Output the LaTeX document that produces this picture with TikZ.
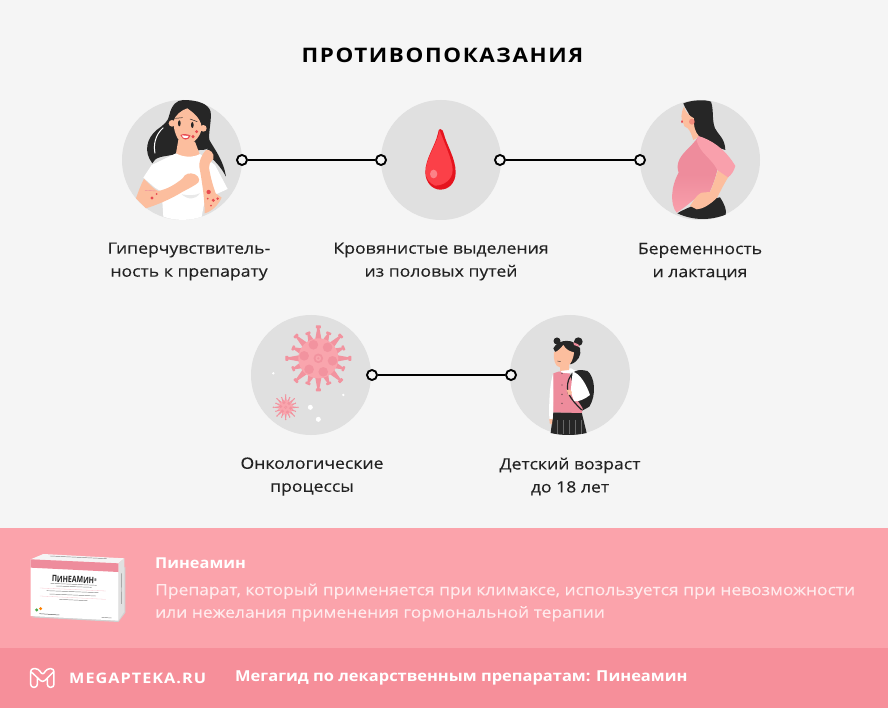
\documentclass[tikz,border=0pt]{standalone}
\usepackage{fontspec}
\setmainfont{Open Sans}[FakeStretch=1.13,FakeBold=0.25,BoldFeatures={FakeBold=0}]
\newfontfamily\boldf{Open Sans}[FakeStretch=1.09]
\newfontfamily\titlefont{Open Sans}[FakeStretch=1.12,LetterSpace=8]
\newfontfamily\brandfont{Open Sans}[FakeStretch=1.12,LetterSpace=7]
\definecolor{bgc}{HTML}{F5F5F5}
\definecolor{discc}{HTML}{E0E0E0}
\definecolor{bandc}{HTML}{FBA3AB}
\definecolor{footc}{HTML}{F68F9A}
\definecolor{inkc}{HTML}{222222}
\definecolor{skinc}{HTML}{FCBE9E}
\definecolor{hairc}{HTML}{262626}
\definecolor{rosec}{HTML}{EE8C9C}
\definecolor{lightrose}{HTML}{F9A0AC}
\definecolor{spikec}{HTML}{F2939F}
\definecolor{bodyc}{HTML}{F9A5AD}
\definecolor{spotc}{HTML}{E84A50}
\definecolor{dropc}{HTML}{FB4048}
\definecolor{dropd}{HTML}{E5141E}
\definecolor{bodytext}{HTML}{FFEAEC}
\tikzset{
  disc/.style={circle,fill=discc,draw=none,minimum size=120pt,inner sep=0pt},
  port/.style={circle,draw=black,fill=bgc,line width=1.9pt,minimum size=10pt,inner sep=0pt},
  link/.style={draw=black,line width=1.8pt},
  lab/.style={align=center,text=inkc,font=\fontsize{15.6}{23}\selectfont,inner sep=0pt},
  bandtext/.style={anchor=west,align=left,inner sep=0pt},
  zoomed/.style={shift={(#1)},x=0.3333pt,y=-0.3333pt},
  greek/.style={black!45,line width=.45pt},
}
% angle, spike length, body radius, spike half width
\newcommand{\spike}[4]{%
  \begin{scope}[rotate=#1]
  \fill[spikec] (#3*.8,#4) -- (#2*.92,#4*.32) -- (#2,#4*.32) -- (#2,-#4*.32) -- (#2*.92,-#4*.32) -- (#3*.8,-#4) -- cycle;
  \fill[spikec,rounded corners=.6pt] (#2*.93,-#4*.7) rectangle (#2*1.02,#4*.7);
  \end{scope}}
\newcommand{\virus}[5]{%
  \begin{scope}[shift={(#1,#2)}]
  \foreach \a in {0,45,...,315}{\spike{\a+0}{#4}{#3}{#5}}
  \foreach \a in {22.5,67.5,...,337.5}{\spike{\a}{#4*.86}{#3}{#5}}
  \fill[bodyc] (0,0) circle (#3);
  \foreach \a in {0,60,...,300}{\fill[spikec] (\a+10:#3*.72) circle (#3*.24);}
  \fill[spikec] (0,0) circle (#3*.24);
  \fill[bodyc] (0,0) circle (#3*.14);
  \fill[spikec] (0,0) circle (#3*.06);
  \end{scope}}
\begin{document}
\begin{tikzpicture}[x=1pt,y=-1pt]
\useasboundingbox (0,0) rectangle (888,708);
\fill[bgc] (0,0) rectangle (888,528);
\fill[bandc] (0,528) rectangle (888,648);
\fill[footc] (0,648) rectangle (888,708);

\node[text=black,inner sep=0pt,font=\titlefont\bfseries\fontsize{20}{24}\selectfont] (title) at (442.5,55) {ПРОТИВОПОКАЗАНИЯ};

\node[disc] (d1) at (182,160) {};
\node[disc] (d2) at (441,160) {};
\node[disc] (d3) at (700,160) {};
\node[disc] (d4) at (311,375) {};
\node[disc] (d5) at (570,375) {};

% woman with rash
\begin{scope}[zoomed={100,85}]
\fill[hairc] (250,45) .. controls (290,45) and (325,55) .. (332,80) .. controls (335,110) and (325,140) .. (328,165)
 .. controls (335,180) and (335,195) .. (300,195)
 -- (215,210) .. controls (190,215) and (165,215) .. (157,235) .. controls (130,200) and (140,160) .. (170,135)
 .. controls (190,120) and (205,110) .. (208,90) .. controls (215,60) and (230,45) .. (250,45) -- cycle;
\draw[white,line width=1pt] (190,128) .. controls (165,150) and (160,180) .. (165,205);
\fill[skinc] (235,165) -- (285,170) -- (300,210) .. controls (280,225) and (250,225) .. (228,205) -- cycle;
\fill[white] (228,205) .. controls (250,218) and (280,218) .. (300,207) -- (345,240) -- (383,312) -- (348,328) -- (325,290) -- (305,395)
 .. controls (270,408) and (225,408) .. (190,395) -- (185,320) -- (165,308) -- (130,278) -- (155,240) -- cycle;
\fill[discc!70!white] (245,328) .. controls (265,345) and (285,345) .. (300,325) .. controls (285,332) and (265,332) .. (245,328) -- cycle;
\fill[hairc] (328,165) .. controls (345,195) and (370,225) .. (378,275) .. controls (360,240) and (340,225) .. (320,205) -- cycle;
\fill[skinc] (298,245) .. controls (297,230) and (303,212) .. (318,195) .. controls (330,192) and (345,205) .. (340,222)
 .. controls (330,232) and (326,240) .. (327,248) .. controls (332,280) and (340,305) .. (347,325) -- (365,338)
 .. controls (355,360) and (335,380) .. (314,385) .. controls (314,340) and (306,290) .. (298,245) -- cycle;
\fill[skinc] (132,282) .. controls (150,300) and (165,315) .. (175,318) .. controls (205,312) and (230,295) .. (248,280)
 .. controls (255,265) and (270,262) .. (285,268) .. controls (300,275) and (302,292) .. (288,298) .. controls (270,310) and (250,318) .. (235,328)
 .. controls (205,345) and (170,360) .. (138,370) -- (108,340) .. controls (115,320) and (122,300) .. (132,282) -- cycle;
\fill[skinc] (216,115) circle (10);
\fill[skinc] (310,130) circle (10);
\fill[skinc] (220,110) .. controls (225,90) and (245,75) .. (262,70) .. controls (275,80) and (300,95) .. (305,125)
 .. controls (305,150) and (285,175) .. (260,180) .. controls (238,178) and (222,150) .. (220,110) -- cycle;
\fill[hairc] (238,115) ellipse (4 and 9);
\fill[hairc] (277,120) ellipse (4 and 9);
\draw[hairc,line width=.5pt] (226,100) -- (248,98);
\draw[hairc,line width=.5pt] (270,102) -- (292,110);
\fill[spotc] (241,150) .. controls (252,145) and (265,148) .. (272,152) .. controls (265,168) and (248,168) .. (241,150) -- cycle;
\fill[white] (246,151) -- (266,153) -- (262,159) -- (249,158) -- cycle;
\fill[spotc] (290,140) circle (5);
\fill[spotc] (279,155) circle (5);
\fill[spotc] (326,321) circle (6.5);
\fill[spotc] (340,346) circle (5);
\fill[spotc] (353,341) circle (4);
\fill[spotc] (323,341) circle (3);
\fill[spotc] (333,362) circle (3);
\fill[spotc] (156,339) circle (5);
\fill[spotc] (170,327) circle (3);
\draw[rosec,line width=.4pt] (135,316) -- (168,318);
\end{scope}

% drop
\begin{scope}[zoomed={370,95}]
\fill[dropd] (211,102) .. controls (218,102) and (220,110) .. (222,118) .. controls (230,150) and (257,190) .. (257,232)
 .. controls (257,265) and (235,284) .. (211,284) .. controls (187,284) and (166,262) .. (166,232)
 .. controls (166,190) and (195,155) .. (204,115) .. controls (205,106) and (207,102) .. (211,102) -- cycle;
\fill[dropc] (209,106) .. controls (215,125) and (248,195) .. (248,225) .. controls (248,255) and (220,272) .. (195,272)
 .. controls (180,265) and (166,250) .. (167,232) .. controls (167,190) and (198,155) .. (209,106) -- cycle;
\fill[white,opacity=.35] (191,237) ellipse (11 and 13);
\end{scope}

% pregnant woman
\begin{scope}[zoomed={630,90}]
\fill[hairc] (160,40) .. controls (185,30) and (225,28) .. (243,35) .. controls (252,60) and (245,90) .. (255,115)
 .. controls (265,135) and (285,145) .. (286,180) -- (240,165) -- (205,140) -- (185,120) -- (180,80) .. controls (175,65) and (165,55) .. (160,40) -- cycle;
\fill[skinc] (162,50) .. controls (165,65) and (178,78) .. (192,85) .. controls (190,110) and (195,125) .. (208,140)
 -- (190,150) .. controls (185,135) and (180,120) .. (172,114) .. controls (165,112) and (160,108) .. (160,100)
 .. controls (152,90) and (152,70) .. (162,50) -- cycle;
\fill[spotc!70!skinc,opacity=.6] (186,95) circle (9);
\fill[spotc] (156,95) ellipse (3 and 5);
\fill[hairc] (142,370) .. controls (165,355) and (230,330) .. (270,322) .. controls (285,345) and (290,360) .. (287,374)
 .. controls (240,392) and (190,392) .. (142,370) -- cycle;
\shade[top color=rosec,bottom color=lightrose,middle color=rosec] (205,140) .. controls (240,160) and (262,190) .. (285,215) -- (262,240) .. controls (255,270) and (245,295) .. (237,310)
 -- (212,312) .. controls (195,325) and (175,345) .. (140,368) .. controls (120,345) and (122,290) .. (146,248)
 .. controls (138,225) and (145,205) .. (170,180) .. controls (185,165) and (195,155) .. (205,140) -- cycle;
\fill[skinc] (264,240) -- (298,256) .. controls (280,285) and (268,310) .. (262,322) .. controls (240,345) and (215,358) .. (200,358)
 -- (180,348) .. controls (190,335) and (195,318) .. (215,308) -- (240,306) .. controls (250,285) and (257,260) .. (264,240) -- cycle;
\fill[lightrose] (205,138) .. controls (240,148) and (285,175) .. (316,228) .. controls (312,242) and (305,254) .. (294,262)
 -- (262,240) .. controls (245,205) and (210,190) .. (200,152) -- cycle;
\end{scope}

% virus
\begin{scope}[zoomed={240,305}]
\virus{235}{160}{60}{97}{11}
\virus{137}{307}{21}{38}{3.4}
\fill[white] (100,205) circle (4);
\fill[white] (310,270) circle (4);
\fill[white] (211,307) circle (7.5);
\fill[white] (235,343) circle (7.5);
\end{scope}

% girl
\begin{scope}[zoomed={500,305}]
\fill[black!85] (152,384) -- (160,322) -- (245,322) -- (260,384) .. controls (225,392) and (185,392) .. (152,384) -- cycle;
\foreach \q in {172,190,208,226,243}{\draw[black!60,line width=.35pt] (\q,345) -- (\q,386);}
\fill[skinc] (148,340) -- (158,340) -- (156,358) -- (149,355) -- cycle;
\fill[white] (160,205) .. controls (150,230) and (146,290) .. (148,342) -- (158,342) -- (162,280) -- cycle;
\fill[hairc] (200,235) .. controls (205,200) and (235,190) .. (262,198) .. controls (285,215) and (290,270) .. (268,305)
 -- (245,318) -- (230,290) -- cycle;
\fill[rosec] (175,200) -- (205,197) .. controls (215,220) and (220,245) .. (222,270) -- (248,310) -- (246,324) -- (160,322)
 -- (160,205) -- cycle;
\fill[white] (180,195) -- (213,190) -- (228,198) -- (205,205) -- (185,203) -- cycle;
\draw[hairc,line width=1.2pt] (248,197) .. controls (215,195) and (195,225) .. (205,265) .. controls (215,285) and (230,300) .. (245,315);
\fill[white] (218,200) .. controls (240,205) and (260,240) .. (270,270) .. controls (255,282) and (235,292) .. (222,288) -- (212,260) -- cycle;
\fill[skinc] (200,255) .. controls (210,250) and (218,258) .. (215,268) -- (205,270) -- cycle;
\foreach \q in {205,240,268,295}{\fill[hairc!70!rosec] (186,\q) circle (2.2);}
\fill[hairc] (235,110) circle (13);
\fill[hairc] (171,108) circle (10.5);
\fill[hairc] (160,130) .. controls (175,100) and (225,100) .. (240,130) .. controls (245,150) and (235,170) .. (212,178) -- (165,140) -- cycle;
\fill[skinc] (162,142) .. controls (175,140) and (185,125) .. (190,120) .. controls (198,135) and (212,140) .. (222,142)
 .. controls (220,165) and (212,175) .. (207,180) -- (207,195) -- (180,198) -- (180,187) .. controls (165,185) and (160,165) .. (162,142) -- cycle;
\fill[rosec] (220,112) -- (235,118) -- (238,126) -- (222,120) -- cycle;
\draw[hairc,line width=.4pt] (172,168) -- (182,170);
\end{scope}

% connectors
\node[port] (p1) at (242,160) {};
\node[port] (p2) at (381,160) {};
\node[port] (p3) at (500,160) {};
\node[port] (p4) at (640,160) {};
\node[port] (p5) at (372,375) {};
\node[port] (p6) at (511,375) {};
\draw[link] (p1) -- (p2);
\draw[link] (p3) -- (p4);
\draw[link] (p5) -- (p6);

% labels
\node[lab] (l1) at (189,261.5) {Гиперчувствитель-\\ность к препарату};
\node[lab] (l2) at (441,261.5) {Кровянистые выделения\\из половых путей};
\node[lab] (l3) at (700,261.5) {Беременность\\и лактация};
\node[lab] (l4) at (312,476.5) {Онкологические\\процессы};
\node[lab] (l5) at (570,476.5) {Детский возраст\\до 18 лет};

% package
\begin{scope}[zoomed={0,530}]
\fill[black!18] (95,262) -- (355,276) -- (376,248) -- (376,110) -- (355,130) -- cycle;
\fill[black!4] (92,88) -- (130,72) -- (373,85) -- (355,100) -- cycle;
\fill[black!12] (355,100) -- (373,85) -- (373,245) -- (355,272) -- cycle;
\fill[white] (92,88) -- (355,100) -- (355,272) -- (92,258) -- cycle;
\fill[rosec] (92,88) -- (355,100) -- (355,126) -- (92,113) -- cycle;
\draw[rosec!50,line width=.3pt] (120,174) -- (318,183);
\draw[rosec!50,line width=.3pt] (120,198) -- (318,208);
\draw[greek] (152,160) -- (290,166);
\draw[greek] (168,168) -- (275,172);
\draw[greek] (140,182) -- (295,188);
\draw[greek] (148,192) -- (288,198);
\draw[greek] (178,208) -- (262,212);
\draw[greek] (150,78) -- (320,86);
\draw[greek] (364,130) -- (365,222);
\draw[greek] (305,262) -- (335,264);
\node[rotate=-2.2,text=inkc,inner sep=0pt,font=\boldf\bfseries\fontsize{8.8}{9}\selectfont] (pk) at (223,149) {\scalebox{.72}[1]{ПИНЕАМИН\raisebox{2.5pt}{\fontsize{4}{4}\selectfont®}}};
\fill[green!50!black!70] (110,240) circle (5);
\fill[orange] (122,236) circle (5);
\draw[black!60,line width=.5pt] (118,251) -- (178,255);
\end{scope}

% band
\node[bandtext,text=white,font=\boldf\bfseries\fontsize{15}{18}\selectfont] (bt) at (155,563) {Пинеамин};
\node[bandtext,text=bodytext,font=\fontsize{15.45}{22.5}\selectfont] (bb) at (155,602.5) {Препарат, который применяется при климаксе, используется при невозможности\\или нежелания применения гормональной терапии};

% footer
\begin{scope}[zoomed={0,530}]
\draw[white,line width=1.5pt,line join=round,rounded corners=3pt]
 (112,445) -- (112,472) -- (92,472) -- (92,416) -- (115,416) -- (128,436) -- (141,416) -- (162,416) -- (162,472) -- (142,472) -- (142,445)
 (92,424) -- (128,458) -- (162,424);
\end{scope}
\node[bandtext,text=white,font=\brandfont\bfseries\fontsize{14.5}{18}\selectfont] (brand) at (69,678) {MEGAPTEKA.RU};
\node[bandtext,text=white,font=\boldf\bfseries\fontsize{15.1}{18}\selectfont] (ft) at (235,678) {Мегагид по лекарственным препаратам: Пинеамин};
\end{tikzpicture}
\end{document}
